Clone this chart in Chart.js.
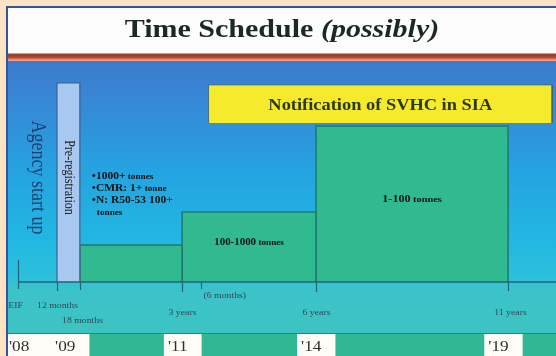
<!DOCTYPE html>
<html>
<head>
<meta charset="utf-8">
<title>Time Schedule (possibly)</title>
<script src="https://cdn.jsdelivr.net/npm/chart.js@4.4.1/dist/chart.umd.min.js"></script>
<style>
  html, body { margin: 0; padding: 0; background: #fde5c4; overflow: hidden; }
  #wrap { position: relative; width: 556px; height: 356px; }
  #chart { position: absolute; left: 0; top: 0; }
  #heading {
    position: absolute; left: 8px; top: 15px; width: 548px; margin: 0;
    text-align: center; white-space: nowrap;
    font: bold 25px/28px "Liberation Serif", "Times New Roman", serif;
    color: #1c2828; transform: scaleX(1.2);
  }
</style>
</head>
<body>
<div id="wrap">
  <canvas id="chart" width="556" height="356"></canvas>
  <h1 id="heading">Time Schedule <i>(possibly)</i></h1>
</div>
<script>
// ---- schedule data (months counted from entry into force) ----
const milestoneMonths = [0, 12, 18, 36, 42, 72, 132];
const milestoneLabels = ['EIF', '12 months', '18 months', '3 years', '(6 months)', '6 years', '11 years'];

const agencyLabel = 'Agency start up';
const agencyMonths = [0, 12];

const preRegLabel = 'Pre-registration';
const preRegMonths = [12, 18];
const preRegLevel = 9.95;

// registration phases: start, end and schematic height of each tonnage band
const phaseStart = [18, 36, 72];
const phaseEnd = [36, 72, 132];
const phaseLevel = [1.85, 3.5, 7.8];
const phaseLabels = [
  ['•1000+ tonnes', '•CMR: 1+ tonne', '•N: R50-53 100+', 'tonnes'],
  ['100-1000 tonnes'],
  ['1-100 tonnes']
];

const noticeLabel = 'Notification of SVHC in SIA';
const noticeMonths = [44, 148.5];
const noticeLevels = [7.95, 9.85];

const yearLabels = ["'08", "'09", "'11", "'14", "'19"];
const yearMonths = [-2.8, 11.4, 33.5, 68.1, 125.8];

// ---- drawing setup ----
const SERIF = '"Liberation Serif", "Times New Roman", serif';
const SX = 1.15; // horizontal stretch of the slide lettering

// schematic spacing of the timeline: share of the axis width reached at each stop
const STOP_MONTHS = [...milestoneMonths, 150];
const STOP_SHARE = [0, 0.0725, 0.115, 0.305, 0.34, 0.554, 0.911, 1];

function monthToShare(m) {
  let i = 0;
  while (i < STOP_MONTHS.length - 2 && m > STOP_MONTHS[i + 1]) i++;
  return STOP_SHARE[i] + (m - STOP_MONTHS[i]) / (STOP_MONTHS[i + 1] - STOP_MONTHS[i]) * (STOP_SHARE[i + 1] - STOP_SHARE[i]);
}
function shareToMonth(s) {
  let i = 0;
  while (i < STOP_SHARE.length - 2 && s > STOP_SHARE[i + 1]) i++;
  return STOP_MONTHS[i] + (s - STOP_SHARE[i]) / (STOP_SHARE[i + 1] - STOP_SHARE[i]) * (STOP_MONTHS[i + 1] - STOP_MONTHS[i]);
}

// linear scale with piecewise (schematic) spacing between milestones
class TimelineScale extends Chart.LinearScale {
  getPixelForValue(value) {
    if (value === null || value === undefined || isNaN(value)) return NaN;
    return this.getPixelForDecimal(monthToShare(value));
  }
  getValueForPixel(pixel) {
    return shareToMonth(this.getDecimalForPixel(pixel));
  }
}
TimelineScale.id = 'timeline';
TimelineScale.defaults = {};
Chart.register(TimelineScale);

function block(from, to, bottom, top) {
  return [{ x: from, y: bottom }, { x: from, y: top }, { x: to, y: top }, { x: to, y: bottom }];
}

function text(c, s, x, y, font, color, align, rotate) {
  c.save();
  c.translate(x, y);
  c.scale(SX, 1);
  if (rotate) c.rotate(rotate);
  c.font = font;
  c.fillStyle = color;
  c.textAlign = align || 'left';
  c.textBaseline = rotate ? 'middle' : 'alphabetic';
  c.fillText(s, 0, 0);
  c.restore();
}

// a label whose trailing unit ("tonnes") is set in a smaller size
function unitText(c, s, x, y, bigFont, smallFont, align) {
  const m = s.match(/^(.*?)(\s*tonnes?)$/);
  const parts = m ? [[m[1], bigFont], [m[2], smallFont]] : [[s, bigFont]];
  let w = 0;
  parts.forEach(p => { c.font = p[1]; w += c.measureText(p[0]).width; });
  c.save();
  c.translate(x, y);
  c.scale(SX, 1);
  c.fillStyle = '#111';
  c.textAlign = 'left';
  c.textBaseline = 'alphabetic';
  let cx = align === 'center' ? -w / 2 : 0;
  parts.forEach(p => { c.font = p[1]; c.fillText(p[0], cx, 0); cx += c.measureText(p[0]).width; });
  c.restore();
}

const backdrop = {
  id: 'backdrop',
  beforeDraw(chart) {
    const c = chart.ctx, W = chart.width, H = chart.height;
    c.save();
    c.fillStyle = '#fde5c4';
    c.fillRect(0, 0, W, H);
    c.fillStyle = '#3553a6';
    c.fillRect(6, 6, W - 6, 2);
    c.fillRect(6, 6, 2, H - 6);
    c.fillStyle = '#fdfdfd';
    c.fillRect(8, 8, W - 8, 46);
    const r = c.createLinearGradient(0, 53, 0, 61);
    r.addColorStop(0, '#f3c6b8');
    r.addColorStop(0.2, '#8f3d2c');
    r.addColorStop(0.55, '#b4462e');
    r.addColorStop(0.78, '#ea7b5e');
    r.addColorStop(1, '#f0b5a2');
    c.fillStyle = r;
    c.fillRect(8, 53, W - 8, 8);
    const g = c.createLinearGradient(0, 61, 0, 333);
    g.addColorStop(0, '#3c7bcc');
    g.addColorStop(0.14, '#3787d4');
    g.addColorStop(0.4, '#25a3e0');
    g.addColorStop(0.66, '#21b7e2');
    g.addColorStop(0.79, '#2dbfdc');
    g.addColorStop(0.84, '#3bc3c9');
    g.addColorStop(1, '#3cc4c2');
    c.fillStyle = g;
    c.fillRect(8, 61, W - 8, 272);
    c.fillStyle = '#30b894';
    c.fillRect(8, 333, W - 8, H - 333);
    c.fillStyle = '#1f8784';
    c.fillRect(8, 333, W - 8, 1);
    c.restore();
  }
};

// tick length above/below the axis and label offsets for each milestone
const TICK_LAYOUT = [
  { up: 22, down: 7, dx: -3, dy: 26, align: 'center' },
  { up: 0, down: 9, dx: 0, dy: 26, align: 'center' },
  { up: 0, down: 8, dx: 2, dy: 41, align: 'center' },
  { up: 0, down: 10, dx: 0, dy: 33, align: 'center' },
  { up: 0, down: 7, dx: 2, dy: 16, align: 'left' },
  { up: 0, down: 10, dx: 0, dy: 33, align: 'center' },
  { up: 0, down: 9, dx: 2, dy: 33, align: 'center' }
];
const YEAR_BOXES = [[0, 1], [2], [3], [4]];

const annotate = {
  id: 'annotate',
  afterDatasetsDraw(chart) {
    const c = chart.ctx, xs = chart.scales.x, ys = chart.scales.y;
    const px = m => xs.getPixelForValue(m);
    const py = v => ys.getPixelForValue(v);
    const y0 = py(0);
    c.save();

    // time axis with milestone ticks
    c.strokeStyle = '#1d6676';
    c.lineWidth = 1.5;
    c.beginPath();
    c.moveTo(px(milestoneMonths[0]), y0);
    c.lineTo(chart.chartArea.right, y0);
    c.stroke();
    c.lineWidth = 1.2;
    milestoneMonths.forEach((m, i) => {
      const x = Math.round(px(m)) + 0.5, t = TICK_LAYOUT[i];
      c.beginPath();
      c.moveTo(x, y0 - t.up);
      c.lineTo(x, y0 + t.down);
      c.stroke();
      text(c, milestoneLabels[i], x + t.dx, y0 + t.dy, `8.5px ${SERIF}`, '#34465a', t.align);
    });

    // vertical captions
    const midY = (y0 + py(preRegLevel)) / 2 - 5;
    text(c, agencyLabel, (px(agencyMonths[0]) + px(agencyMonths[1])) / 2, midY,
      `18px ${SERIF}`, '#1f3f70', 'center', Math.PI / 2);
    text(c, preRegLabel, (px(preRegMonths[0]) + px(preRegMonths[1])) / 2, midY,
      `12px ${SERIF}`, '#222', 'center', Math.PI / 2);

    // phase captions
    const first = phaseLabels[0];
    first.forEach((line, k) => {
      const x = px(phaseStart[0]) + 12 + (line.startsWith('•') ? 0 : 5);
      const y = py(phaseLevel[0]) - 66 + k * 12;
      unitText(c, line, x, y, `bold 10px ${SERIF}`, `bold 8px ${SERIF}`, 'left');
    });
    const sizes = [null, [9.5, 8], [10.5, 9]];
    for (let i = 1; i < phaseLabels.length; i++) {
      const cx = (px(phaseStart[i]) + px(phaseEnd[i])) / 2;
      const cy = (py(phaseLevel[i]) + y0) / 2 - 2;
      unitText(c, phaseLabels[i][0], cx, cy, `bold ${sizes[i][0]}px ${SERIF}`, `bold ${sizes[i][1]}px ${SERIF}`, 'center');
    }

    // notification caption
    const nx = (px(noticeMonths[0]) + px(noticeMonths[1])) / 2;
    const ny = (py(noticeLevels[0]) + py(noticeLevels[1])) / 2 + 5.5;
    text(c, noticeLabel, nx, ny, `bold 16px ${SERIF}`, '#2b3a12', 'center');

    // calendar years
    c.font = `15px ${SERIF}`;
    YEAR_BOXES.forEach(group => {
      const left = Math.max(8, px(yearMonths[group[0]]) - 4);
      const lastX = px(yearMonths[group[group.length - 1]]);
      const right = lastX + c.measureText(yearLabels[group[group.length - 1]]).width * SX + 14;
      c.fillStyle = '#fffcf7';
      c.fillRect(left, 334, right - left, chart.height - 334);
    });
    yearLabels.forEach((lab, i) => {
      text(c, lab, px(yearMonths[i]), 351, `15px ${SERIF}`, '#2e2e2e', 'left');
    });
    c.restore();
  }
};

const phaseDatasets = phaseStart.map((s, i) => ({
  label: phaseLabels[i].join(' '),
  data: block(s, phaseEnd[i], 0, phaseLevel[i]),
  backgroundColor: '#31b98f',
  borderColor: '#1f7a6e',
  borderWidth: 1.5,
  fill: 'origin'
}));

new Chart(document.getElementById('chart'), {
  type: 'line',
  data: {
    datasets: [
      {
        label: noticeLabel,
        data: block(noticeMonths[0], noticeMonths[1], noticeLevels[0], noticeLevels[1]),
        backgroundColor: '#f6ea2c',
        borderColor: 'rgba(70,90,60,0.6)',
        borderWidth: 1,
        fill: { value: noticeLevels[0] }
      },
      {
        label: preRegLabel,
        data: block(preRegMonths[0], preRegMonths[1], 0, preRegLevel),
        backgroundColor: '#a9c8ef',
        borderColor: '#3f5f8f',
        borderWidth: 1.2,
        fill: 'origin'
      },
      ...phaseDatasets
    ]
  },
  options: {
    responsive: false,
    animation: false,
    layout: { padding: { left: 18, right: 0, top: 82, bottom: 74 } },
    elements: {
      point: { radius: 0, hoverRadius: 0 },
      line: { tension: 0, borderJoinStyle: 'miter' }
    },
    scales: {
      x: { type: 'timeline', min: 0, max: 150, display: false },
      y: { type: 'linear', min: 0, max: 10, display: false }
    },
    plugins: {
      legend: { display: false },
      tooltip: { enabled: false },
      title: { display: false }
    }
  },
  plugins: [backdrop, annotate]
});
</script>
</body>
</html>
